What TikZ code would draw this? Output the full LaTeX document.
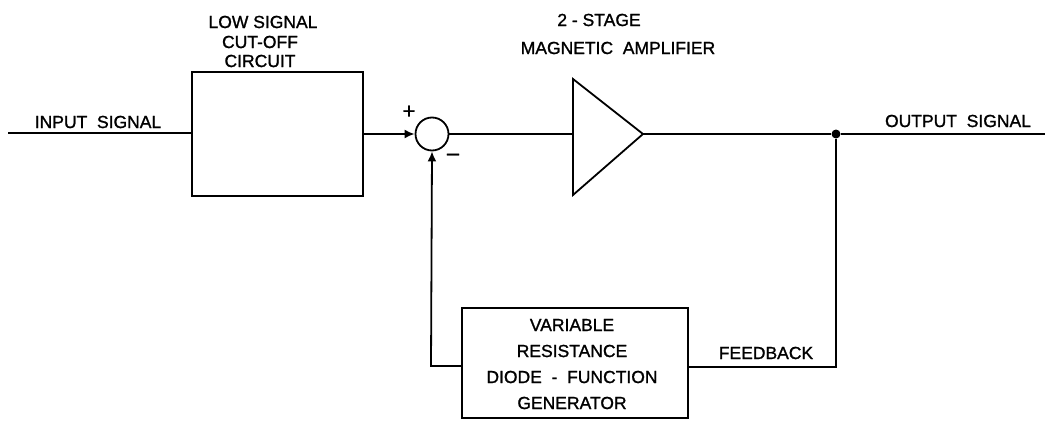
\documentclass[tikz,border=0pt]{standalone}
\usepackage{fontspec}
\setmainfont{Liberation Sans}[FakeBold=1.2]
\usetikzlibrary{arrows.meta}
\begin{document}
\begin{tikzpicture}[x=1pt,y=-1pt,
  wire/.style={line width=1.8pt},
  blk/.style={draw,line width=1.6pt,rectangle,inner sep=0pt},
  lbl/.style={font=\fontsize{17.5}{20}\selectfont,inner sep=0pt,align=center},
  tip/.style={-{Latex[length=10pt,width=9pt]}}
]
\useasboundingbox (0,0) rectangle (1049,423);
% nodes
\coordinate (in) at (8,133);
\node[blk,minimum width=171pt,minimum height=124pt] (lsc) at (277.5,134) {};
\node[draw,circle,line width=1.8pt,minimum size=33pt,inner sep=0pt] (sum) at (432,134) {};
\coordinate (ampin) at (573,134);
\coordinate (ampout) at (643,134);
\draw[wire,line join=miter] (573,79) -- (ampout) -- (573,195) -- cycle;
\node[circle,fill,inner sep=0pt,minimum size=9pt] (jn) at (836,134) {};
\coordinate (out) at (1045,134);
\node[blk,minimum width=226pt,minimum height=110pt] (dfg) at (575,363) {};
\coordinate (fbr) at (836,367);
\coordinate (fbl) at (431,366);
% connectors
\draw[wire] (in) -- (lsc.west |- in);
\draw[wire,tip] (lsc.east) -- (sum.west);
\draw[wire] (sum.east) -- (ampin);
\draw[wire] (ampout) -- (jn) -- (out);
\draw[wire] (dfg.east |- fbr) -- (fbr) -- (jn);
\draw[wire,tip] (dfg.west |- fbl) -- (fbl) -- (sum.south);
% labels
\node[lbl] (tin) at (98,122) {INPUT\ \ SIGNAL};
\node[lbl] (tout) at (958,121) {OUTPUT\ \ SIGNAL};
\node[lbl] (t1) at (263,22) {LOW SIGNAL};
\node[lbl] (t2) at (260,42) {CUT-OFF};
\node[lbl] (t3) at (260,61) {CIRCUIT};
\node[lbl] (t4) at (599,20) {2 - STAGE};
\node[lbl] (t5) at (618,48) {MAGNETIC\ \ AMPLIFIER};
\node[lbl,font=\fontsize{22}{22}\selectfont] (plus) at (409,112) {+};
\node[lbl,font=\fontsize{22}{22}\selectfont] (minus) at (453,157) {–};
\node[lbl] (fb) at (766,353) {FEEDBACK};
\node[lbl] (d1) at (572,325) {VARIABLE};
\node[lbl] (d2) at (572,351) {RESISTANCE};
\node[lbl] (d3) at (572,377) {DIODE\ \ -\ \ FUNCTION};
\node[lbl] (d4) at (572,403) {GENERATOR};
\end{tikzpicture}
\end{document}
